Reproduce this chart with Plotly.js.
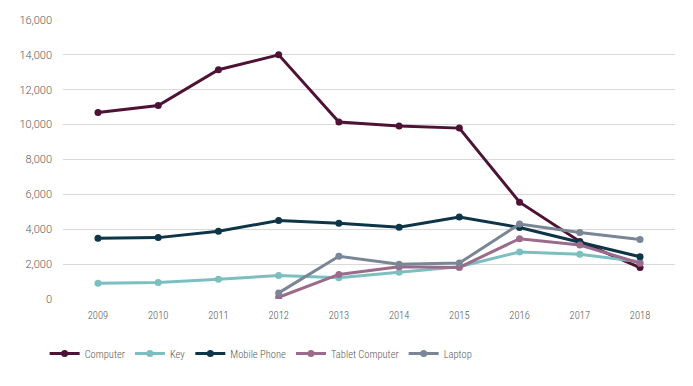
<!DOCTYPE html>
<html><head><meta charset="utf-8">
<script src="https://cdn.plot.ly/plotly-3.0.1.min.js"></script>
<style>html,body{margin:0;padding:0;background:#fff}#chart{width:693px;height:386px}</style>
</head><body><div id="chart"></div>
<script>
const years = ["2009","2010","2011","2012","2013","2014","2015","2016","2017","2018"];
const computer = [10700, 11100, 13150, 14000, 10150, 9920, 9800, 5550, 3300, 1800];
const key = [900, 950, 1130, 1350, 1220, 1530, 1850, 2700, 2560, 2140];
const mobilePhone = [3480, 3520, 3880, 4500, 4350, 4110, 4700, 4100, 3250, 2420];
const tabletComputer = [null, null, null, 100, 1410, 1850, 1810, 3460, 3100, 2050];
const laptop = [null, null, null, 350, 2450, 2000, 2060, 4300, 3810, 3410];
const seriesNames = ["Computer", "Key", "Mobile Phone", "Tablet Computer", "Laptop"];
const seriesValues = [computer, key, mobilePhone, tabletComputer, laptop];
const colors = ["#4e1236", "#7bbfc0", "#0d3447", "#9b6b8c", "#7a8696"];

const traces = seriesNames.map((n, i) => ({
  x: years, y: seriesValues[i], name: n, type: "scatter", mode: "lines+markers",
  line: {color: colors[i], width: 3}, marker: {color: colors[i], size: 7},
  connectgaps: false
}));
const condFont = {family: '"Roboto Condensed", Roboto, sans-serif', size: 10.5, color: "#595959", weight: 300};
const layout = {
  width: 693, height: 386,
  margin: {l: 63, r: 18, t: 20, b: 87},
  paper_bgcolor: "#fff", plot_bgcolor: "#fff",
  font: {family: 'Roboto, sans-serif', size: 11, color: "#595959"},
  showlegend: true,
  legend: {orientation: "h", x: -0.03, xanchor: "left", y: -0.195, yanchor: "middle",
           font: condFont, itemwidth: 30, traceorder: "normal"},
  xaxis: {type: "category", showgrid: false, zeroline: false, showline: false, ticks: "",
          ticklabelstandoff: 8, tickfont: condFont},
  yaxis: {range: [0, 16000], dtick: 2000, tickformat: ",d", gridcolor: "#d9d9d9", gridwidth: 1,
          zeroline: false, showline: false, ticks: "", ticklabelstandoff: 10,
          tickfont: {family: 'Roboto, sans-serif', size: 11, color: "#595959", weight: 300}}
};
Plotly.newPlot("chart", traces, layout, {displayModeBar: false});
</script></body></html>
